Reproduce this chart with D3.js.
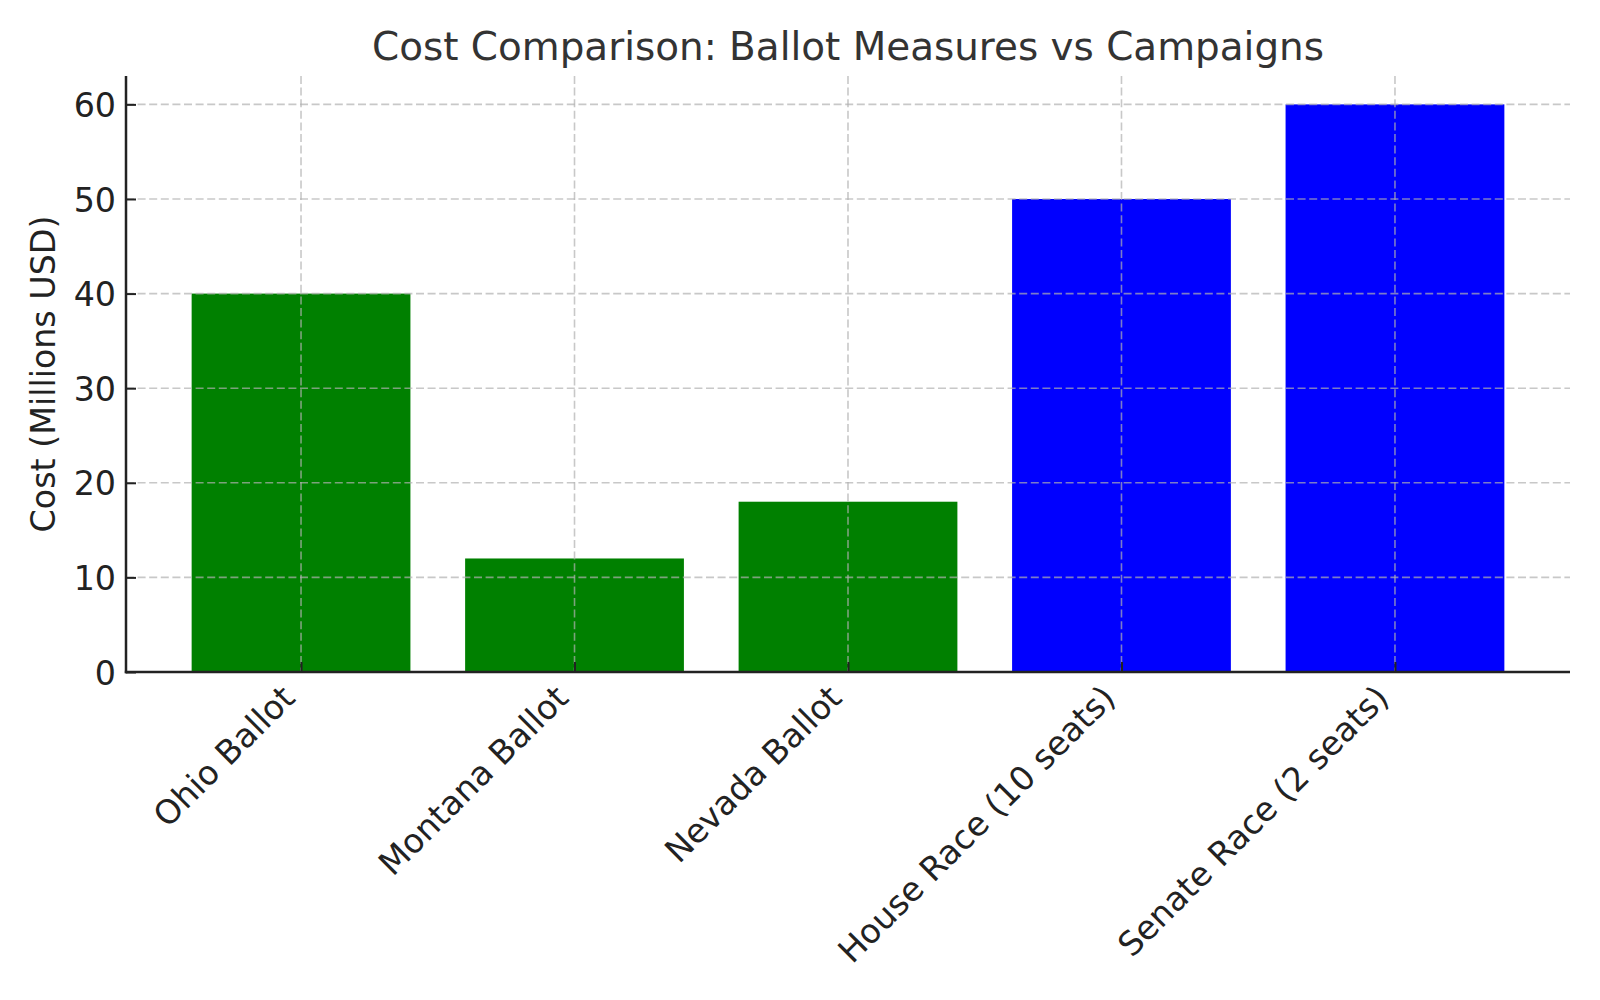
<!DOCTYPE html>
<html>
<head>
<meta charset="utf-8">
<script src="https://cdn.jsdelivr.net/npm/d3@7"></script>
<style>
  html, body { margin: 0; padding: 0; background: #fff; }
  svg { display: block; }
  text { font-family: "DejaVu Sans", sans-serif; }
</style>
</head>
<body>
<svg id="chart" width="1600" height="1000"></svg>
<script>
const categories = ["Ohio Ballot", "Montana Ballot", "Nevada Ballot", "House Race (10 seats)", "Senate Race (2 seats)"];
const costs = [40, 12, 18, 50, 60];
const barColors = ["green", "green", "green", "blue", "blue"];
const yTicks = [0, 10, 20, 30, 40, 50, 60];
const titleText = "Cost Comparison: Ballot Measures vs Campaigns";
const yLabelText = "Cost (Millions USD)";

const W = 1600, H = 1000;
const plot = { left: 126, right: 1570, top: 76, bottom: 672 };
const svg = d3.select("#chart");

const idx = categories.map((d, i) => i);
const x = d3.scaleLinear().domain([-0.64, categories.length - 1 + 0.64]).range([plot.left, plot.right]);
const y = d3.scaleLinear().domain([0, 63]).range([plot.bottom, plot.top]);
const barW = x(0.8) - x(0);

// bars
svg.append("g").selectAll("rect").data(costs).join("rect")
  .attr("x", (d, i) => x(i) - barW / 2)
  .attr("width", barW)
  .attr("y", d => y(d))
  .attr("height", d => y(0) - y(d))
  .attr("fill", (d, i) => barColors[i]);

// grid (drawn above bars)
const grid = svg.append("g").attr("stroke", "#b0b0b0").attr("stroke-opacity", 0.7)
  .attr("stroke-width", 1.6).attr("stroke-dasharray", "8,3.6");
grid.selectAll("line.h").data(yTicks).join("line").attr("class", "h")
  .attr("x1", plot.left).attr("x2", plot.right)
  .attr("y1", d => y(d)).attr("y2", d => y(d));
grid.selectAll("line.v").data(idx).join("line").attr("class", "v")
  .attr("x1", d => x(d)).attr("x2", d => x(d))
  .attr("y1", plot.top).attr("y2", plot.bottom);

// y axis (ticks inward)
const yAxis = d3.axisLeft(y).tickValues(yTicks).tickSize(-10).tickPadding(20).tickFormat(d3.format("d"));
const gy = svg.append("g").attr("transform", `translate(${plot.left},0)`).call(yAxis);
gy.select(".domain").remove();
gy.selectAll(".tick line").attr("stroke", "#222").attr("stroke-width", 2);
gy.selectAll(".tick text").attr("font-size", 33.3).attr("fill", "#222")
  .attr("x", -10).attr("dy", "0.3645em");

// x axis (ticks inward)
const xAxis = d3.axisBottom(x).tickValues(idx).tickSize(-10).tickFormat(i => categories[i]);
const gx = svg.append("g").attr("transform", `translate(0,${plot.bottom})`).call(xAxis);
gx.select(".domain").remove();
gx.selectAll(".tick line").attr("stroke", "#222").attr("stroke-width", 2);
const hOff = 11.4;
gx.selectAll(".tick text")
  .attr("font-size", 33.3).attr("fill", "#222")
  .attr("text-anchor", "end")
  .attr("x", 0).attr("y", 0).attr("dy", "0.276em")
  .attr("transform", `translate(${-hOff},${10 + hOff}) rotate(-45)`);

// spines
svg.append("line").attr("x1", plot.left).attr("x2", plot.left)
  .attr("y1", plot.top).attr("y2", plot.bottom + 1.2)
  .attr("stroke", "#222").attr("stroke-width", 2.5);
svg.append("line").attr("x1", plot.left - 1.2).attr("x2", plot.right)
  .attr("y1", plot.bottom).attr("y2", plot.bottom)
  .attr("stroke", "#222").attr("stroke-width", 2.5);

// title
svg.append("text").attr("x", (plot.left + plot.right) / 2).attr("y", 60)
  .attr("text-anchor", "middle").attr("font-size", 38.9).attr("fill", "#333")
  .text(titleText);

// y label
svg.append("text").attr("transform", `translate(55,${(plot.top + plot.bottom) / 2}) rotate(-90)`)
  .attr("text-anchor", "middle").attr("font-size", 33.3).attr("fill", "#222")
  .text(yLabelText);
</script>
</body>
</html>
